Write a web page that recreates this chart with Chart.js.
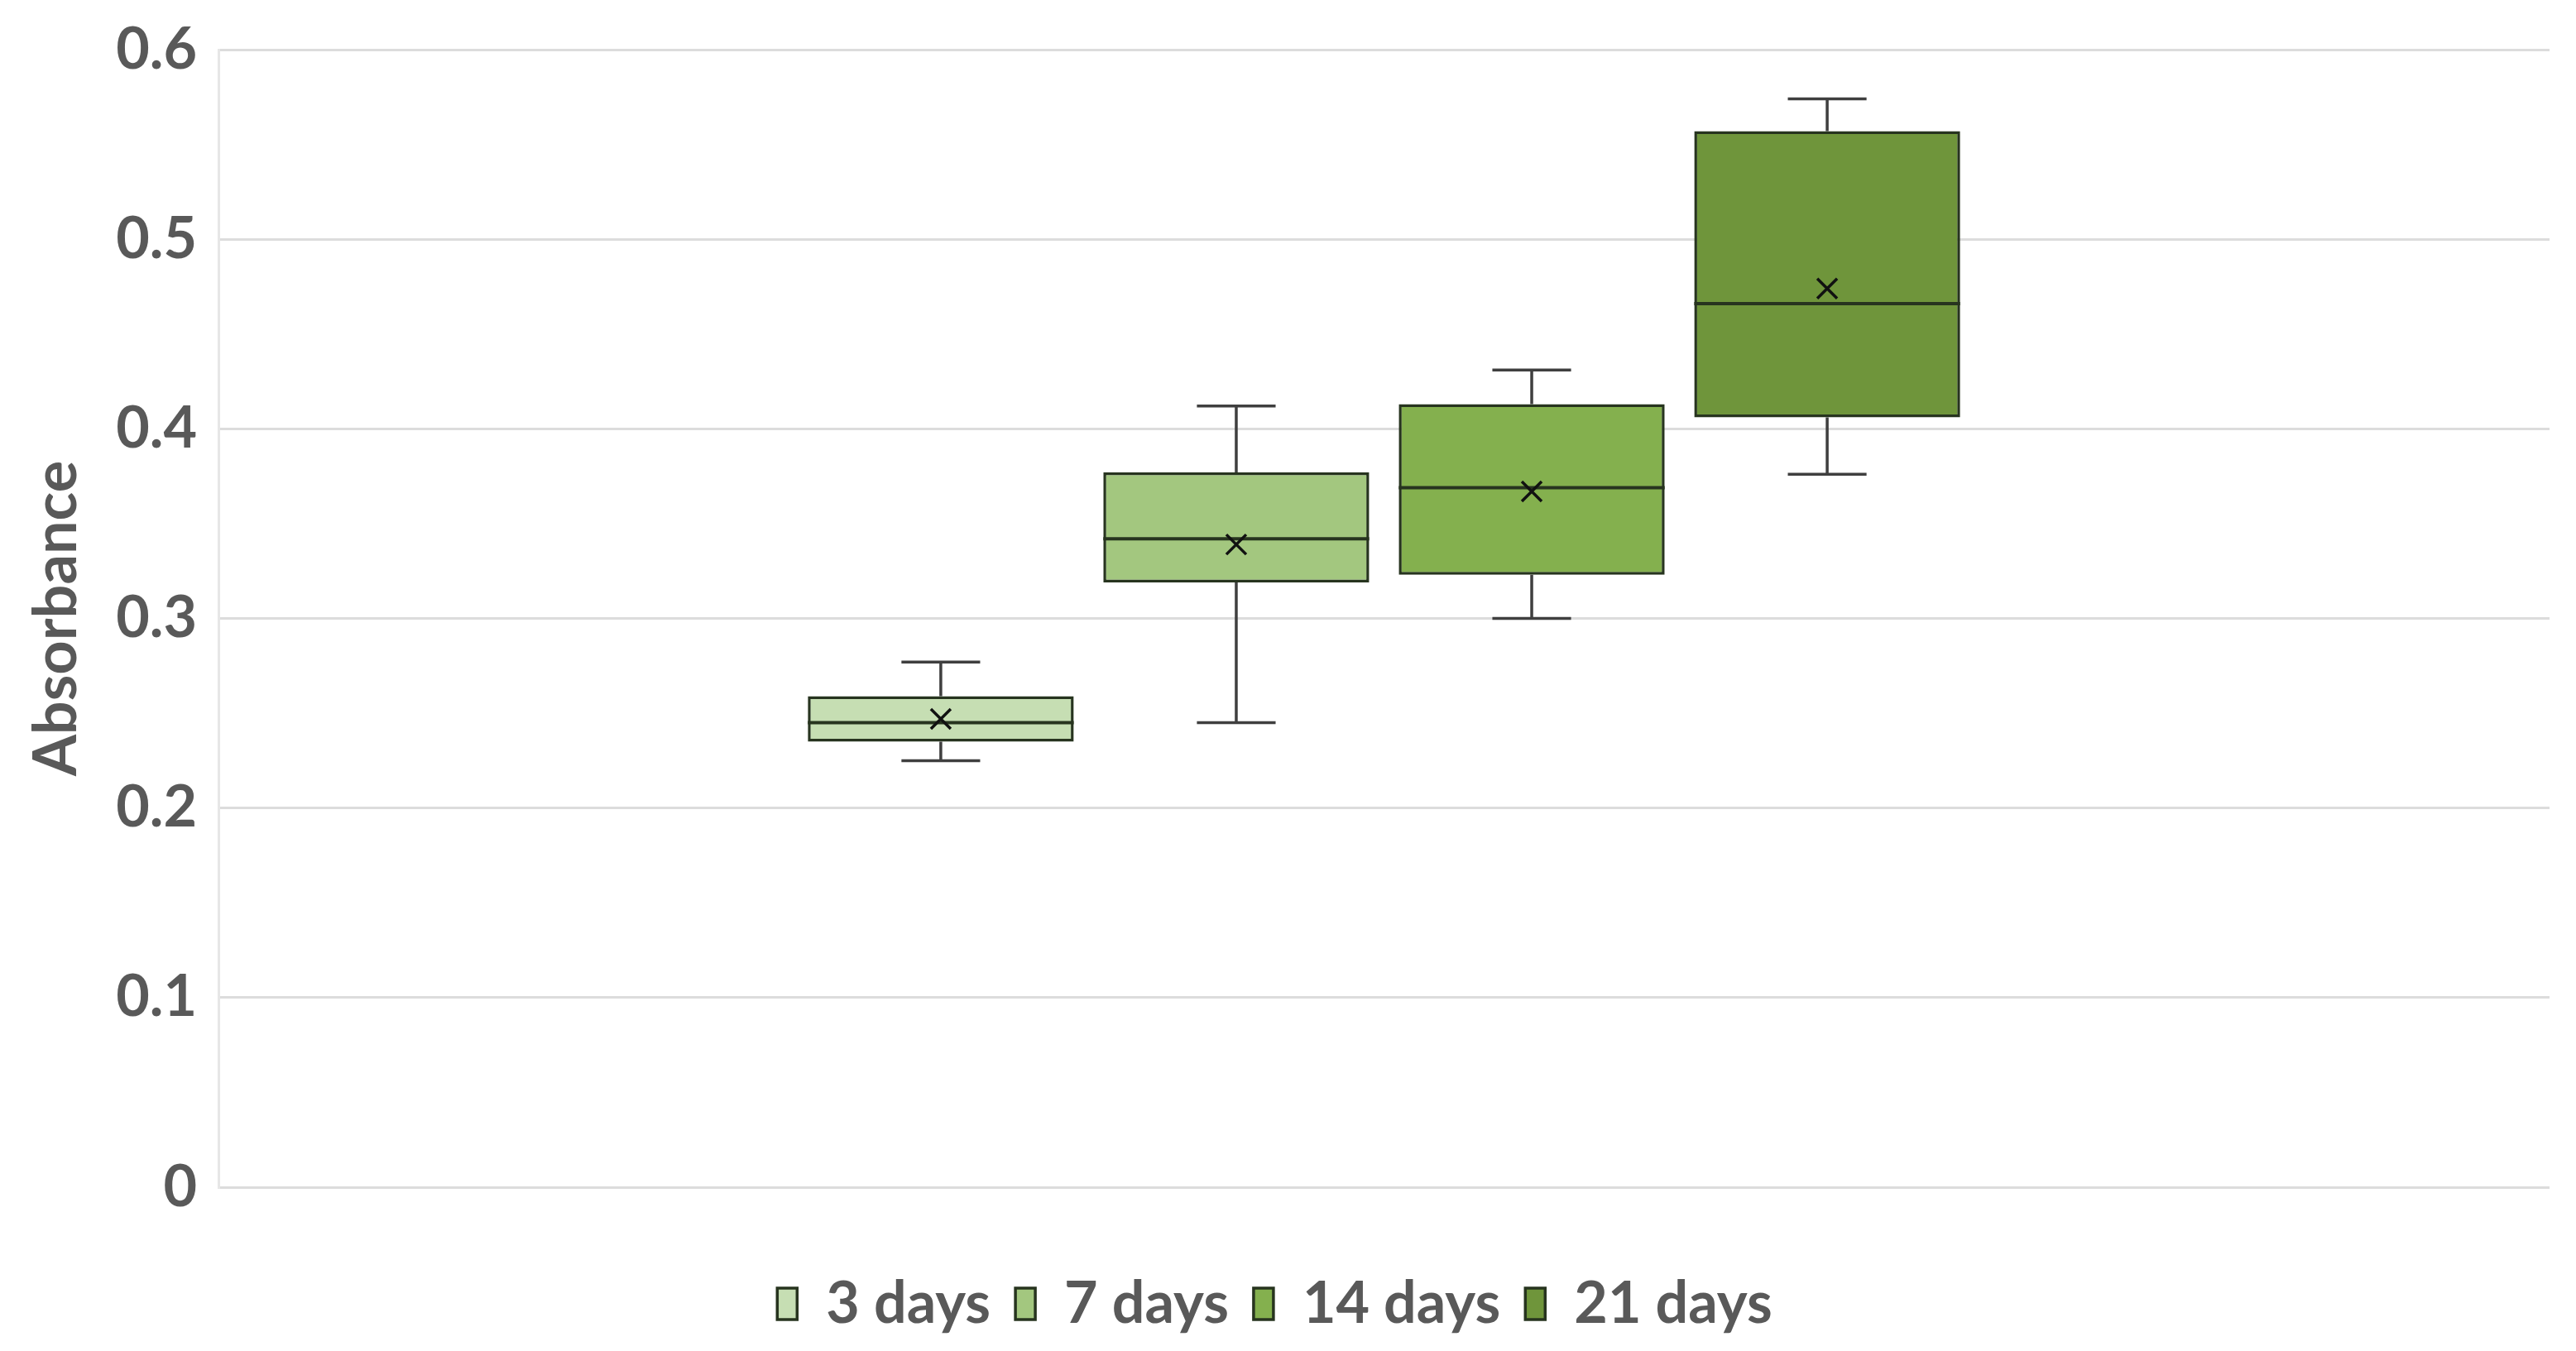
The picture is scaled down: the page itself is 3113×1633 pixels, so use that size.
<!DOCTYPE html>
<html>
<head>
<meta charset="utf-8">
<script src="https://cdn.jsdelivr.net/npm/chart.js@4.4.1/dist/chart.umd.min.js"></script>
<style>
  html, body { margin: 0; padding: 0; background: #fff; }
  #wrap { width: 3113px; height: 1633px; position: relative; }
</style>
</head>
<body>
<div id="wrap"><canvas id="chart"></canvas></div>
<script>
const groups = ['3 days', '7 days', '14 days', '21 days'];
const mins    = [0.225, 0.245, 0.300, 0.376];
const q1s     = [0.235, 0.319, 0.323, 0.406];
const medians = [0.245, 0.342, 0.369, 0.466];
const q3s     = [0.259, 0.377, 0.413, 0.557];
const maxs    = [0.277, 0.412, 0.431, 0.574];
const means   = [0.247, 0.339, 0.367, 0.474];
const yTicks  = [0, 0.1, 0.2, 0.3, 0.4, 0.5, 0.6];

const fills = ['#c6deb3', '#a3c77f', '#84b04e', '#6f953b'];
const edge = '#27341f';
const grey = '#595959';

// whiskers, median line and mean cross on top of the floating bars
const boxExtras = {
  id: 'boxExtras',
  afterDatasetsDraw(chart) {
    const ctx = chart.ctx;
    const y = chart.scales.y;
    chart.data.datasets.forEach((ds, i) => {
      const bar = chart.getDatasetMeta(i).data[0];
      const x = bar.x, half = bar.width / 2, cap = bar.width * 0.148;
      const py = v => y.getPixelForValue(v);
      ctx.save();
      ctx.lineCap = 'butt';
      // whiskers
      ctx.strokeStyle = '#3f3f3f';
      ctx.lineWidth = 3.5;
      ctx.beginPath();
      ctx.moveTo(x, py(q3s[i])); ctx.lineTo(x, py(maxs[i]));
      ctx.moveTo(x - cap, py(maxs[i])); ctx.lineTo(x + cap, py(maxs[i]));
      ctx.moveTo(x, py(q1s[i])); ctx.lineTo(x, py(mins[i]));
      ctx.moveTo(x - cap, py(mins[i])); ctx.lineTo(x + cap, py(mins[i]));
      ctx.stroke();
      // median
      ctx.strokeStyle = edge;
      ctx.lineWidth = 4;
      ctx.beginPath();
      ctx.moveTo(x - half, py(medians[i])); ctx.lineTo(x + half, py(medians[i]));
      ctx.stroke();
      // mean
      const m = py(means[i]), s = 12;
      ctx.strokeStyle = '#111';
      ctx.lineWidth = 3.5;
      ctx.beginPath();
      ctx.moveTo(x - s, m - s); ctx.lineTo(x + s, m + s);
      ctx.moveTo(x + s, m - s); ctx.lineTo(x - s, m + s);
      ctx.stroke();
      ctx.restore();
    });
  }
};

new Chart(document.getElementById('chart'), {
  type: 'bar',
  data: {
    labels: [''],
    datasets: groups.map((g, i) => ({
      label: g,
      data: [[q1s[i], q3s[i]]],
      backgroundColor: fills[i],
      borderColor: edge,
      borderWidth: 3.5,
      borderSkipped: false
    }))
  },
  options: {
    responsive: true,
    maintainAspectRatio: false,
    animation: false,
    layout: { padding: { left: 0, right: 32, top: 60, bottom: 12 } },
    datasets: { bar: { categoryPercentage: 0.507, barPercentage: 0.9 } },
    scales: {
      x: {
        ticks: { display: false },
        grid: { display: false },
        border: { display: false },
        afterFit: s => { s.height = 76; }
      },
      y: {
        min: 0,
        max: 0.6,
        afterBuildTicks: s => { s.ticks = yTicks.map(v => ({ value: v })); },
        ticks: {
          color: grey,
          padding: 26,
          font: { family: 'Lato', weight: 'bold', size: 70 }
        },
        grid: { color: '#dcdcdc', lineWidth: 3, drawTicks: false },
        border: { display: true, color: '#e6e6e6', width: 3 },
        title: {
          display: true,
          text: 'Absorbance',
          color: grey,
          padding: { top: 26, bottom: 0 },
          font: { family: 'Lato', weight: 'bold', size: 72 }
        },
        afterFit: s => { s.width = 264; s.paddingTop = 0; s.paddingBottom = 0; }
      }
    },
    plugins: {
      tooltip: { enabled: false },
      legend: {
        position: 'bottom',
        labels: {
          color: grey,
          boxWidth: 24,
          boxHeight: 38,
          padding: 30,
          font: { family: 'Lato', weight: 'bold', size: 70 }
        }
      }
    }
  },
  plugins: [boxExtras]
});
</script>
</body>
</html>
